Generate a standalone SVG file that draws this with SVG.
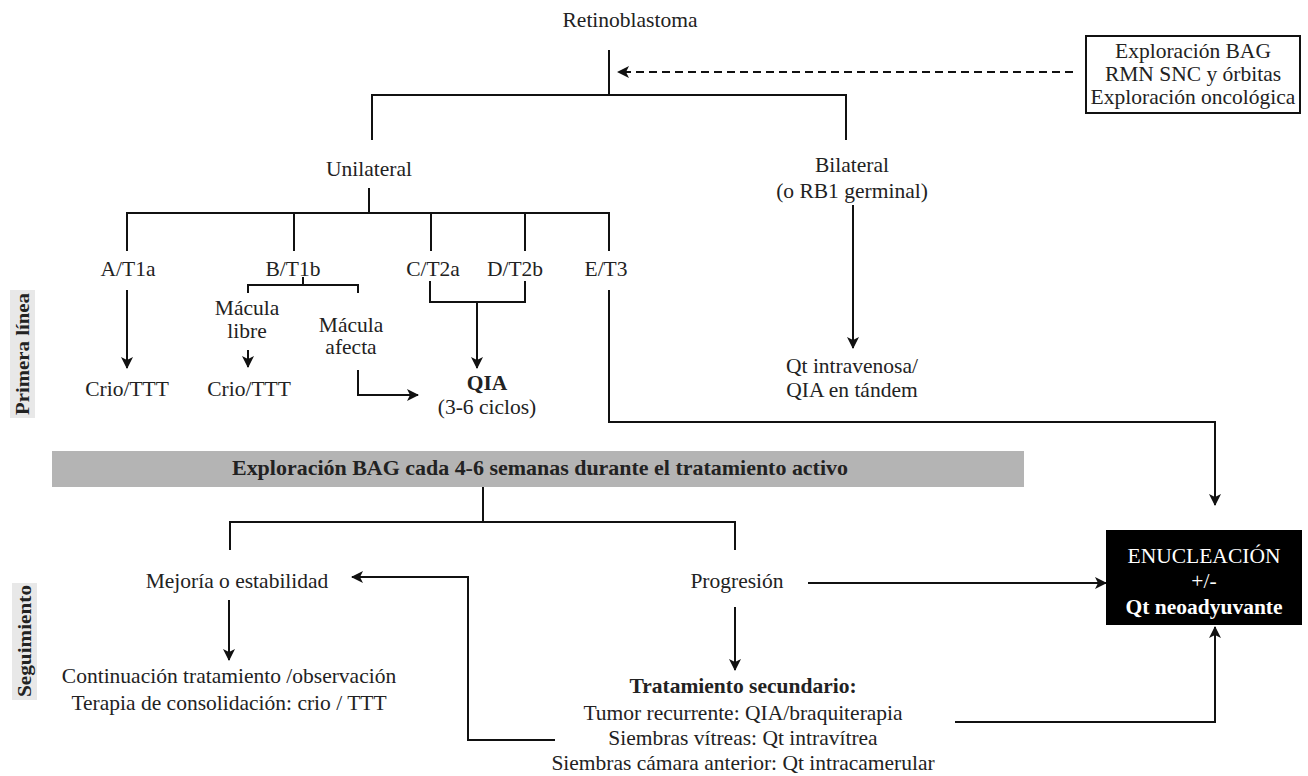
<svg xmlns="http://www.w3.org/2000/svg" width="1308" height="776" viewBox="0 0 1308 776" font-family="'Liberation Serif', 'DejaVu Serif', serif">
<defs>
<marker id="ah" viewBox="0 0 12 12" refX="11" refY="6" markerWidth="12" markerHeight="12" markerUnits="userSpaceOnUse" orient="auto">
<path d="M0,0 L12,6 L0,12 L3,6 Z" fill="#111"/>
</marker>
<style>
text{font-family:'Liberation Serif','DejaVu Serif',serif;font-size:21.5px;fill:#222;text-anchor:middle}
.b{font-weight:bold}
.w{fill:#fff}
.ln{fill:none;stroke:#111;stroke-width:2}
.ar{fill:none;stroke:#111;stroke-width:2;marker-end:url(#ah)}
.lab{font-size:19px;font-weight:bold}
</style>
</defs>
<rect width="1308" height="776" fill="#fff"/>

<g id="side-labels">
<rect x="10" y="290" width="25" height="128" fill="#e8e8e8"/>
<text class="lab" transform="translate(29,354) rotate(-90)" textLength="122" lengthAdjust="spacingAndGlyphs">Primera línea</text>
<rect x="12" y="583" width="25" height="117" fill="#e8e8e8"/>
<text class="lab" transform="translate(31,641) rotate(-90)" textLength="112" lengthAdjust="spacingAndGlyphs">Seguimiento</text>
</g>

<g id="connectors">
<path class="ln" d="M609,50 V95 M372,140 V95 H846 V140"/>
<path class="ar" d="M1073,72 H618" stroke-dasharray="8,5"/>
<path class="ln" d="M369,188 V213 M127,251 V213 H609 V251 M294,213 V251 M431,213 V251 M525,213 V251"/>
<path class="ln" d="M303,277 V285 M248,293 V285 H358 V293"/>
<path class="ln" d="M430,281 V302 H525 V281"/>
<path class="ar" d="M477,302 V368"/>
<path class="ar" d="M127,290 V368"/>
<path class="ar" d="M248,350 V367"/>
<path class="ar" d="M358,370 V395 H418"/>
<path class="ar" d="M853,205 V348"/>
<path class="ar" d="M609,290 V422 H1215 V505"/>
<path class="ln" d="M483,487 V522 M230,550 V522 H735 V550"/>
<path class="ar" d="M229,600 V660"/>
<path class="ar" d="M735,607 V670"/>
<path class="ar" d="M808,583 H1106"/>
<path class="ar" d="M555,740 H468 V577 H352"/>
<path class="ar" d="M955,722 H1215 V627"/>
</g>

<g id="n-retino"><text x="630" y="27">Retinoblastoma</text></g>

<g id="n-exploracion">
<rect x="1086" y="36" width="214" height="77" fill="#fff" stroke="#111" stroke-width="2"/>
<text x="1193" y="58">Exploración BAG</text>
<text x="1193" y="81">RMN SNC y órbitas</text>
<text x="1193" y="104">Exploración oncológica</text>
</g>

<g id="n-unilateral"><text x="369" y="176">Unilateral</text></g>
<g id="n-bilateral"><text x="852" y="172">Bilateral</text><text x="852" y="198">(o RB1 germinal)</text></g>

<g id="n-a"><text x="128" y="276">A/T1a</text></g>
<g id="n-b"><text x="293" y="276">B/T1b</text></g>
<g id="n-c"><text x="433" y="276">C/T2a</text></g>
<g id="n-d"><text x="515" y="276">D/T2b</text></g>
<g id="n-e"><text x="606" y="276">E/T3</text></g>

<g id="n-macula-libre"><text x="247" y="315">Mácula</text><text x="247" y="338">libre</text></g>
<g id="n-macula-afecta"><text x="351" y="332">Mácula</text><text x="351" y="354">afecta</text></g>
<g id="n-crio-a"><text x="127" y="396">Crio/TTT</text></g>
<g id="n-crio-b"><text x="249" y="396">Crio/TTT</text></g>
<g id="n-qia"><text class="b" x="487" y="390">QIA</text><text x="487" y="414">(3-6 ciclos)</text></g>
<g id="n-qt-iv"><text x="852" y="373">Qt intravenosa/</text><text x="852" y="397">QIA en tándem</text></g>

<g id="n-bar">
<rect x="52" y="451" width="972" height="36" fill="#b4b4b4"/>
<text class="b" x="540" y="475" font-size="19" textLength="616" lengthAdjust="spacingAndGlyphs">Exploración BAG cada 4-6 semanas durante el tratamiento activo</text>
</g>

<g id="n-mejoria"><text x="237" y="588">Mejoría o estabilidad</text></g>
<g id="n-continuacion"><text x="229" y="683">Continuación tratamiento /observación</text><text x="229" y="710">Terapia de consolidación: crio / TTT</text></g>
<g id="n-progresion"><text x="737" y="588">Progresión</text></g>
<g id="n-secundario">
<text class="b" x="743" y="693">Tratamiento secundario:</text>
<text x="743" y="720">Tumor recurrente: QIA/braquiterapia</text>
<text x="743" y="745">Siembras vítreas: Qt intravítrea</text>
<text x="743" y="770">Siembras cámara anterior: Qt intracamerular</text>
</g>

<g id="n-enucleacion">
<rect x="1106" y="530" width="196" height="95" fill="#000"/>
<text class="w" x="1204" y="563">ENUCLEACIÓN</text>
<text class="w" x="1204" y="588">+/-</text>
<text class="w b" x="1204" y="614">Qt neoadyuvante</text>
</g>
</svg>
